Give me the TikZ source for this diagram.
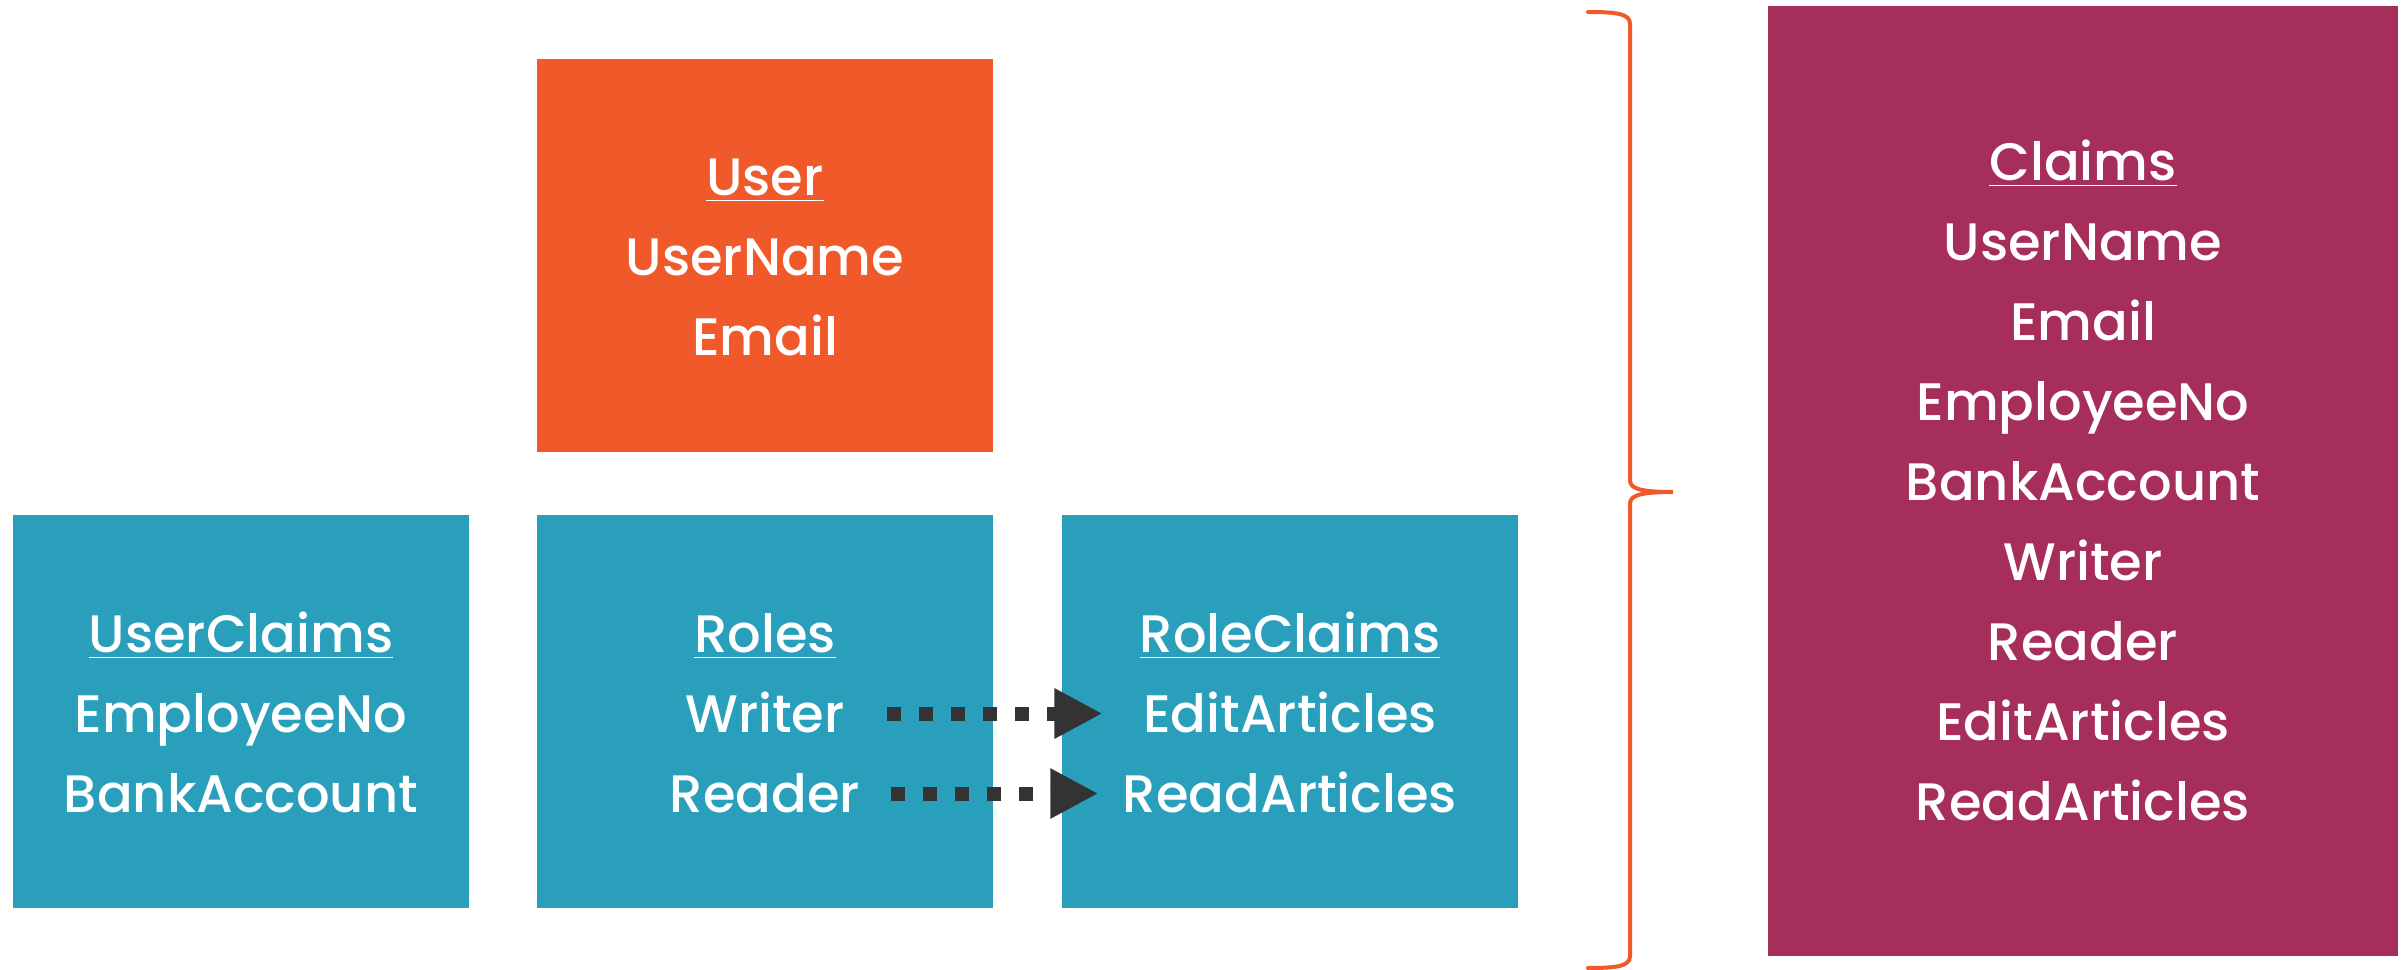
\documentclass[tikz,border=0pt]{standalone}
\usepackage{fontspec}
\setmainfont{Poppins Medium}
\usetikzlibrary{arrows.meta}
\definecolor{userorange}{HTML}{F05A2A}
\definecolor{tableteal}{HTML}{2A9FBC}
\definecolor{claimsred}{HTML}{A62E5B}
\definecolor{arrowgray}{HTML}{333333}
\begin{document}
\begin{tikzpicture}
\tikzset{
    tablebox/.style={fill=#1, minimum width=4.56cm, minimum height=3.93cm, inner sep=0pt},
    entry/.style={text=white, font=\fontsize{15}{18}\selectfont, inner sep=0pt,
                  text height=0.37cm, text depth=0pt, anchor=base},
    dotarrow/.style={draw=arrowgray, line width=0.14cm, dash pattern=on 0.14cm off 0.18cm,
                     -{Triangle[length=0.48cm, width=0.47cm]}}
}
\useasboundingbox (0,0) rectangle (24.04,-9.70);
% tables
\node[tablebox=userorange] (user) at (7.65,-2.555) {};
\node[tablebox=tableteal] (userclaims) at (2.41,-7.11) {};
\node[tablebox=tableteal] (roles) at (7.65,-7.11) {};
\node[tablebox=tableteal] (roleclaims) at (12.90,-7.11) {};
\node[tablebox=claimsred, minimum width=6.30cm, minimum height=9.50cm] (claims) at (20.83,-4.81) {};

\node[entry] (usertitle) at (7.65,-1.95) {\underline{User}};
\node[entry] (username) at (7.65,-2.75) {UserName};
\node[entry] (email) at (7.65,-3.55) {Email};

\node[entry] (ucltitle) at (2.41,-6.52) {\underline{UserClaims}};
\node[entry] (employeeno) at (2.41,-7.32) {EmployeeNo};
\node[entry] (bankaccount) at (2.41,-8.12) {BankAccount};

\node[entry] (rolestitle) at (7.65,-6.52) {\underline{Roles}};
\node[entry] (writer) at (7.65,-7.32) {Writer};
\node[entry] (reader) at (7.65,-8.12) {Reader};

\node[entry] (rcltitle) at (12.90,-6.52) {\underline{RoleClaims}};
\node[entry] (editart) at (12.90,-7.32) {EditArticles};
\node[entry] (readart) at (12.90,-8.12) {ReadArticles};

\node[entry] (claimstitle) at (20.83,-1.80) {\underline{Claims}};
\foreach \txt [count=\i] in {UserName,Email,EmployeeNo,BankAccount,Writer,Reader,EditArticles,ReadArticles}
{
  \node[entry] (claim\i) at (20.83,-1.80-0.8*\i) {\txt};
}

% role -> role claim
\draw[dotarrow, shorten <=0.42cm, shorten >=0.40cm] (writer.east) -- (editart.west);
\draw[dotarrow, shorten <=0.30cm, shorten >=0.24cm] (reader.east) -- (readart.west);

% brace
\draw[userorange, line width=0.04cm, line cap=round]
  (15.88,-0.12) .. controls (16.18,-0.12) and (16.30,-0.14) .. (16.30,-0.24)
  -- (16.30,-4.80)
  .. controls (16.30,-4.88) and (16.38,-4.92) .. (16.73,-4.92)
  .. controls (16.38,-4.92) and (16.30,-4.96) .. (16.30,-5.04)
  -- (16.30,-9.56)
  .. controls (16.30,-9.66) and (16.18,-9.68) .. (15.88,-9.68);
\end{tikzpicture}
\end{document}
